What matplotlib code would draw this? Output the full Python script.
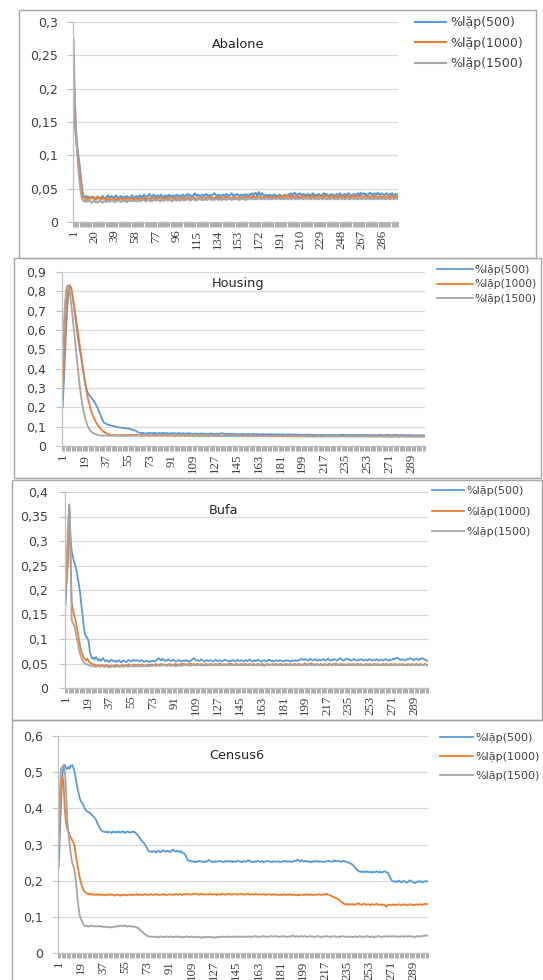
import matplotlib
matplotlib.use('Agg')
import matplotlib.pyplot as plt
import numpy as np
from matplotlib.patches import Rectangle
from matplotlib.ticker import FixedLocator, FuncFormatter

# ---------------- data (values in thousandths, 300 iterations each) ----------------
n_iter = 300
series_labels = ['%lặp(500)', '%lặp(1000)', '%lặp(1500)']
series_colors = ['#5B9BD5', '#ED7D31', '#A5A5A5']

abalone_500 = [
195,160,132,118,105,92,78,62,48,40,38,37,39,36,38,35,37,38,36,37,35,36,38,37,35,36,37,39,36,35,
37,38,40,36,37,39,38,36,37,40,38,37,36,38,39,37,36,38,37,39,38,36,37,38,40,37,36,38,39,37,
38,40,37,39,38,41,39,37,38,40,42,39,38,40,41,38,39,37,40,38,39,41,38,37,39,40,38,39,41,38,
39,38,40,37,39,41,38,40,39,38,40,41,39,38,40,42,39,41,40,38,39,41,43,40,39,41,40,38,40,41,
39,40,42,41,39,40,38,41,40,42,43,41,40,39,41,40,38,40,41,39,40,42,41,39,40,41,43,40,39,41,
40,42,41,39,40,41,39,40,42,40,41,39,40,42,41,43,40,42,44,41,40,45,42,40,43,41,40,39,41,40,
39,41,40,38,40,41,39,40,38,39,41,40,39,38,40,41,40,39,40,42,41,43,40,42,44,41,40,42,41,43,
41,40,42,39,41,40,42,41,39,40,42,43,40,41,39,40,42,41,40,39,41,43,40,42,41,40,39,41,42,40,
41,39,40,42,41,40,43,41,39,40,42,41,40,42,43,41,40,39,41,42,40,41,43,42,40,44,41,42,43,41,
42,40,41,43,44,41,42,40,43,41,42,44,41,40,43,42,41,40,42,43,41,40,42,41,43,42,40,41,42,40]
abalone_1000 = [
240,175,140,115,100,85,70,55,45,38,36,35,36,34,35,36,35,37,36,35,34,36,35,37,36,35,34,35,36,35,
34,33,35,34,33,35,34,36,35,34,33,35,34,36,35,34,35,33,34,36,35,34,35,36,34,35,33,34,36,35,
34,35,36,34,35,36,35,34,36,35,34,36,35,37,36,35,34,36,35,36,37,35,34,36,35,37,36,35,36,34,
35,36,35,37,36,35,34,36,35,36,37,35,36,35,34,36,37,36,35,36,35,37,36,35,34,36,35,36,37,36,
35,36,37,35,36,37,36,35,37,36,35,37,36,38,36,35,37,36,35,36,37,38,36,35,37,36,35,37,36,37,
36,35,37,38,36,37,36,35,37,38,36,37,38,36,37,38,39,37,36,38,37,36,38,37,36,37,38,37,36,38,
37,38,36,37,38,37,36,38,37,36,37,38,39,37,38,40,39,38,40,39,38,37,39,38,37,38,39,37,38,37,
38,37,39,38,37,38,39,37,38,37,38,39,37,38,37,38,39,38,37,39,38,37,38,39,40,38,37,38,39,38,
37,38,39,38,37,38,39,38,37,39,38,37,38,39,38,37,38,39,40,38,37,38,39,38,37,39,38,37,38,39,
38,37,39,38,37,38,39,37,38,39,38,37,38,39,38,37,38,39,38,37,38,39,37,38,39,38,37,38,37,38]
abalone_1500 = [
275,190,150,115,90,70,55,42,35,32,31,32,30,33,31,32,30,29,31,32,30,31,29,30,32,31,30,29,31,32,
30,31,32,30,31,33,32,31,30,32,31,33,32,31,30,32,33,31,32,30,31,33,32,31,33,32,31,32,33,31,
32,33,31,32,34,33,32,31,33,34,32,33,31,32,34,33,32,33,34,32,31,33,34,32,33,34,33,32,34,33,
32,31,33,34,33,32,34,33,32,33,34,33,32,34,33,35,34,33,32,34,35,33,34,33,32,34,35,34,33,34,
33,34,35,33,34,35,34,33,35,34,33,34,35,34,33,35,34,33,34,35,34,33,35,34,36,34,33,35,34,35,
34,35,34,33,35,36,34,35,34,33,35,34,36,35,34,35,36,34,35,34,35,36,35,34,35,36,34,35,36,35,
34,35,36,34,35,36,35,34,35,36,35,34,36,35,34,35,36,35,34,36,35,34,35,36,35,34,36,35,34,35,
36,35,34,35,36,35,34,36,35,34,35,36,35,34,36,35,34,35,36,35,34,35,36,35,34,36,35,34,35,36,
35,34,36,35,34,35,36,35,34,36,35,34,35,36,35,34,35,36,35,34,36,35,34,35,36,35,34,35,36,35,
34,35,36,35,34,36,35,34,35,36,35,34,35,36,35,34,36,35,34,35,36,35,34,35,36,35,34,35,36,35]

housing_500 = [
200,330,480,620,730,800,825,820,790,740,690,640,590,545,505,470,430,390,350,315,
290,275,265,255,248,240,230,220,208,195,180,165,150,135,122,118,115,112,110,108,
106,105,103,101,100,99,97,96,95,94,93,92,92,91,90,89,88,86,84,82,80,76,72,70,68,66,
68,67,65,66,64,67,69,66,65,67,68,66,64,66,67,65,66,68,66,65,67,66,64,65,
66,67,65,66,64,65,67,66,64,65,66,64,63,65,66,64,65,63,62,64,65,63,62,64,63,65,64,62,63,64,
62,63,65,64,62,63,61,63,64,62,63,65,66,64,63,62,64,63,62,63,64,62,61,63,62,61,60,62,63,61,
62,60,61,63,62,60,61,62,63,61,60,62,61,60,59,61,62,60,61,59,60,62,61,60,59,61,60,58,60,61,
59,60,61,59,58,60,59,61,60,58,59,60,58,57,59,60,58,59,57,58,59,57,58,59,57,58,57,56,58,57,
58,57,56,57,58,56,57,58,57,56,57,58,56,57,56,58,57,56,57,58,59,57,58,56,57,58,56,57,58,57,
56,57,58,56,57,58,57,56,58,57,56,57,58,57,56,55,57,56,57,55,56,57,58,56,57,55,56,57,58,56,
57,56,55,57,56,58,57,56,55,56,57,56,55,57,56,55,56,57,55,56,55,56,54,55,56,54,55,56,55,54]
housing_1000 = [
300,430,580,700,790,830,832,815,785,745,705,665,620,575,530,485,440,395,350,310,
275,245,220,195,175,158,143,130,118,108,100,92,85,79,74,70,66,63,61,59,
57,56,55,57,56,55,56,55,57,56,55,56,57,55,56,57,58,56,55,57,
56,58,57,55,56,58,57,56,55,57,58,56,57,55,56,57,58,56,55,57,56,55,57,56,58,57,55,56,57,56,
55,57,56,55,57,58,56,55,57,56,55,54,56,55,57,56,55,54,56,55,54,56,55,53,55,56,54,55,53,54,
55,54,56,55,53,54,55,56,54,53,55,54,53,55,54,56,55,53,54,55,53,54,55,54,53,52,54,53,55,54,
53,54,52,53,54,53,52,54,53,52,54,53,52,53,54,52,53,52,54,53,52,51,53,52,53,52,51,53,52,51,
52,53,51,52,53,52,51,52,53,51,52,51,50,52,51,52,50,51,52,51,50,52,51,50,51,52,50,51,50,52,
51,50,52,51,50,51,52,50,51,50,52,51,50,51,50,52,51,50,51,52,50,51,50,51,52,50,51,50,52,51,
50,51,52,50,51,50,52,51,50,51,50,52,51,50,49,51,50,52,51,50,49,51,50,51,49,50,51,50,49,51,
50,49,51,50,49,50,51,49,50,51,50,49,50,51,49,50,49,51,50,49,50,51,49,50,49,50,51,49,50,49]
housing_1500 = [
450,620,740,810,830,822,790,740,680,620,560,500,440,380,320,270,225,190,160,135,
115,100,88,80,73,68,64,61,59,57,
55,54,55,54,53,54,55,54,53,54,53,54,55,53,54,53,54,53,52,54,53,54,53,52,54,53,52,53,54,53,
52,53,54,52,53,52,54,53,52,53,54,52,53,52,53,54,52,53,52,54,53,52,53,52,54,53,52,53,52,53,
52,53,52,51,53,52,53,51,52,53,52,51,52,53,51,52,53,52,51,52,51,53,52,51,52,51,52,53,51,52,
51,52,51,53,52,51,52,51,52,51,53,52,51,52,51,52,51,50,52,51,52,51,50,51,52,51,50,52,51,50,
51,52,50,51,50,52,51,50,51,50,51,52,50,51,50,51,50,52,51,50,51,50,49,51,50,51,50,49,51,50,
50,51,49,50,51,50,49,50,51,49,50,51,50,49,50,49,51,50,49,50,51,49,50,49,50,51,49,50,49,50,
49,50,51,49,50,49,50,49,51,50,49,50,49,50,51,49,50,49,50,49,50,51,49,50,49,50,49,50,51,49,
50,49,50,49,51,50,49,50,49,50,49,50,51,49,50,49,48,50,49,50,49,48,50,49,50,49,48,50,49,50,
49,48,50,49,48,49,50,49,48,49,50,48,49,48,50,49,48,49,50,48,49,48,49,50,48,49,48,49,48,49]

bufa_500 = [
170,230,300,372,310,280,268,258,250,240,225,210,195,170,150,125,110,105,102,95,75,65,60,62,58,63,60,56,59,55,
58,61,56,54,57,55,53,56,58,55,54,56,53,55,57,54,52,55,56,54,53,55,57,56,54,55,58,56,55,57,
56,54,55,57,55,53,54,56,55,53,55,54,56,55,54,57,59,61,58,56,60,58,55,57,56,59,57,55,56,58,
56,54,55,57,56,55,54,56,55,57,55,56,54,55,57,59,61,58,56,57,55,56,58,57,55,54,56,57,55,56,
57,55,54,56,58,56,55,57,56,54,55,57,58,56,55,54,56,55,57,56,54,55,58,56,55,57,56,54,56,57,
55,56,58,56,54,55,57,55,56,58,56,55,54,56,57,55,54,56,58,57,55,56,54,55,57,56,55,57,56,55,
54,56,55,57,56,55,54,56,55,57,56,55,57,56,58,60,58,57,59,58,56,57,60,58,56,57,59,57,56,58,
57,56,58,59,57,56,58,60,57,56,58,57,59,58,56,57,59,61,58,57,56,58,60,59,57,58,56,57,59,58,
57,56,58,57,59,58,56,57,58,56,57,59,58,57,56,58,57,59,58,56,57,58,56,57,59,58,57,56,58,57,
58,60,59,61,62,60,58,57,59,58,56,57,59,58,60,61,59,58,57,59,60,58,57,59,61,60,59,58,57,55]
bufa_1000 = [
205,225,260,368,280,175,160,150,140,128,115,100,85,75,68,62,58,56,60,55,52,50,49,48,48,47,46,47,45,46,
47,46,45,46,47,45,44,46,45,44,46,45,47,46,45,44,46,47,46,45,47,46,48,47,46,45,47,48,46,47,
48,47,46,48,47,46,45,47,48,47,46,48,47,46,48,49,47,48,47,49,48,47,48,46,47,48,49,47,48,47,
48,49,47,48,47,49,48,50,49,48,47,49,48,50,49,48,49,47,48,49,48,47,49,48,47,48,49,48,47,48,
49,48,47,48,49,47,48,50,49,48,47,49,48,47,49,48,50,49,48,47,48,49,48,47,48,49,47,48,49,48,
47,48,49,48,47,49,48,47,48,49,48,47,49,48,45,47,48,49,48,47,48,49,47,48,49,48,47,48,49,48,
47,48,49,48,47,48,49,47,48,49,48,47,48,49,48,47,48,49,50,48,47,49,48,50,49,48,47,49,48,47,
48,49,47,48,49,48,46,48,49,48,47,49,48,50,49,48,47,49,48,47,49,48,47,48,49,48,47,49,48,47,
48,49,48,47,49,48,47,48,49,48,47,49,48,47,48,49,48,47,49,48,47,48,49,48,47,49,48,47,48,49,
48,47,49,48,47,48,49,48,47,49,48,47,48,49,48,47,49,48,47,48,49,48,47,49,48,47,48,49,48,46]
bufa_1500 = [
220,270,330,375,300,140,132,128,118,105,92,80,70,62,56,52,50,49,48,47,46,45,44,45,44,43,44,45,43,44,
45,44,43,44,45,43,42,44,43,45,44,43,44,45,44,43,45,44,43,44,45,44,43,45,46,44,45,44,46,45,
44,45,46,44,45,46,45,44,46,45,44,46,45,47,46,45,47,46,45,47,46,48,47,46,45,47,46,45,47,46,
45,44,46,45,47,46,45,47,46,48,47,46,47,45,46,47,48,46,47,46,48,47,46,47,48,46,47,46,48,47,
46,47,48,46,47,46,48,47,46,47,48,46,47,48,47,46,48,47,46,47,48,46,47,48,47,46,48,47,46,47,
48,46,47,48,47,46,48,47,46,47,48,47,46,48,47,46,47,48,46,47,48,47,46,48,47,46,47,48,47,46,
47,48,46,47,48,47,46,48,47,46,47,48,47,46,48,47,46,47,48,46,47,48,47,46,48,47,46,47,48,47,
46,48,47,46,47,48,47,46,48,47,46,47,48,46,47,48,47,46,48,47,46,47,48,47,46,48,47,46,47,48,
47,46,48,47,46,47,48,47,46,48,47,46,47,48,46,47,48,47,46,48,47,46,47,48,47,46,48,47,46,47,
48,47,46,48,47,46,47,48,47,46,48,47,46,47,48,46,47,48,47,46,48,47,46,47,48,47,46,48,47,47]

census6_500 = [
235,330,420,490,515,520,512,508,515,510,518,520,512,500,480,460,445,430,420,415,410,400,395,392,390,388,385,382,378,375,
370,362,355,348,342,338,336,335,334,336,333,335,334,332,336,334,335,333,336,334,335,333,337,334,332,335,336,334,333,335,
334,336,333,330,326,322,318,312,308,305,300,295,288,282,280,281,279,282,280,278,281,283,280,279,282,284,281,280,283,282,
279,281,284,286,282,280,283,281,279,282,278,276,275,270,262,256,254,255,253,252,254,251,253,252,255,253,252,254,251,253,
252,255,257,254,252,253,251,254,252,253,255,254,252,253,251,254,253,255,252,254,253,251,254,252,253,255,254,252,253,251,
254,253,252,255,257,254,252,253,251,254,252,253,255,253,252,254,251,253,252,255,254,252,253,251,254,253,252,254,253,252,
251,253,254,252,255,253,252,254,253,251,253,255,254,256,258,255,253,257,254,252,255,253,254,252,253,251,254,252,253,255,
253,252,254,253,251,253,252,254,253,255,253,252,254,253,256,254,253,255,253,252,254,255,253,252,251,250,249,247,245,242,
238,234,230,227,225,224,226,223,225,224,226,223,225,224,222,225,223,224,226,224,223,225,222,224,226,225,223,221,215,208,
201,198,197,199,196,198,200,197,195,198,199,197,194,196,199,201,198,197,195,193,196,198,197,199,196,195,197,198,199,198]
census6_1000 = [
300,380,450,490,470,400,360,345,335,325,318,312,305,295,270,250,230,210,195,185,176,170,167,165,163,162,164,161,163,162,
160,162,161,163,160,162,161,159,162,160,161,163,160,162,161,160,159,161,162,160,158,161,160,162,161,159,160,162,161,160,
162,160,161,163,161,160,162,161,160,162,163,161,160,162,161,163,162,160,161,163,162,161,160,162,161,163,162,160,161,162,
163,161,162,160,162,164,162,161,163,162,160,162,163,161,164,162,163,161,162,164,163,165,162,163,161,164,162,163,161,162,
163,161,162,164,162,161,163,162,160,162,163,161,162,164,162,161,163,162,164,163,161,162,164,163,162,161,163,162,164,162,
163,161,162,164,163,161,162,163,161,162,164,162,161,163,162,161,163,162,160,162,163,161,162,160,162,163,161,162,160,161,
162,160,161,163,161,160,162,161,163,160,161,162,160,161,159,161,160,162,161,160,162,161,163,160,161,162,160,161,162,160,
161,163,162,160,161,163,162,164,162,161,160,158,156,155,153,152,150,148,145,142,140,137,135,134,136,133,135,134,136,133,
135,134,136,138,135,134,133,135,136,134,133,135,134,132,135,134,133,135,136,134,133,135,132,134,133,131,128,133,134,132,
134,133,135,132,134,133,135,134,132,133,135,134,133,132,134,135,133,134,132,133,135,134,133,135,134,133,135,136,134,136]
census6_1500 = [
300,450,510,515,520,505,450,370,330,300,270,250,240,225,200,160,130,105,95,88,80,76,74,75,73,74,75,76,74,73,
75,74,73,74,75,72,73,71,72,73,71,72,70,72,71,73,72,74,75,73,76,75,74,76,75,74,73,75,74,73,
74,72,73,71,70,67,64,61,58,55,52,49,47,46,45,46,44,45,46,44,45,43,45,46,44,45,44,46,45,44,
45,46,44,45,44,46,45,44,46,45,44,43,45,44,46,45,44,45,46,44,45,44,43,45,44,43,42,44,43,45,
44,43,44,45,43,44,42,43,44,45,43,44,45,46,44,45,44,46,45,44,45,46,44,45,46,45,44,46,45,44,
45,46,44,45,46,45,44,46,45,47,45,46,44,45,46,45,47,46,45,44,46,45,47,46,45,46,47,45,46,44,
45,46,47,45,46,44,45,46,45,47,48,46,45,47,46,45,46,47,45,46,47,45,44,46,47,45,46,44,45,46,
47,45,46,44,45,46,45,47,46,45,44,46,45,47,46,44,45,46,44,45,47,46,45,44,46,45,44,46,45,44,
45,46,44,45,47,45,46,44,46,45,47,46,45,44,46,45,43,46,45,47,46,45,44,46,45,47,46,45,47,46,
45,46,47,45,46,44,46,45,47,46,45,46,47,45,46,47,45,46,44,45,46,47,45,46,47,46,48,47,49,48]

abalone_ticks = list(range(1, 300, 19))   # 1, 20, ..., 286
other_ticks = list(range(1, 300, 18))     # 1, 19, ..., 289

# ---------------- layout helpers (pixel coords of the 543x980 image) ----------------
W, H = 543, 980
fig = plt.figure(figsize=(W / 100, H / 100), dpi=100)


def fx(x):
    return x / W


def fy(y):
    return 1 - y / H


panels = [
    dict(title='Abalone', data=[abalone_500, abalone_1000, abalone_1500], ymax=0.3, ystep=0.05,
         ticks=abalone_ticks, rect=(73, 398, 22, 222), title_xy=(238, 44), border=(19, 10, 536, 258),
         leg=dict(x=415, top=16, fs=9, hl=2.5, tp=0.3, ls=0.6), ypad=7.0, lw=1.5),
    dict(title='Housing', data=[housing_500, housing_1000, housing_1500], ymax=0.9, ystep=0.1,
         ticks=other_ticks, rect=(62, 425, 272, 446), title_xy=(238, 284), border=(14, 258, 541, 478),
         leg=dict(x=437, top=265, fs=7.7, hl=3.4, tp=0.1, ls=0.42), ypad=7.5, lw=1.3),
    dict(title='Bufa', data=[bufa_500, bufa_1000, bufa_1500], ymax=0.4, ystep=0.05,
         ticks=other_ticks, rect=(65, 428, 492, 688), title_xy=(224, 510), border=(12, 480, 542, 720),
         leg=dict(x=432, top=486, fs=8, hl=2.9, tp=0.15, ls=0.95), ypad=8.0, lw=1.3),
    dict(title='Census6', data=[census6_500, census6_1000, census6_1500], ymax=0.6, ystep=0.1,
         ticks=other_ticks, rect=(58, 428, 736, 953), title_xy=(237, 755), border=(12, 720, 546, 990),
         leg=dict(x=440, top=733, fs=8, hl=3.0, tp=0.15, ls=0.8), ypad=7.0, lw=1.3),
]

txt_color = '#404040'
axis_color = '#BFBFBF'
grid_color = '#D9D9D9'

for p in panels:
    bx0, by0, bx1, by1 = p['border']
    fig.patches.append(Rectangle((fx(bx0), fy(by1)), fx(bx1) - fx(bx0), fy(by0) - fy(by1),
                                 transform=fig.transFigure, fill=False,
                                 edgecolor='#A6A6A6', lw=1.0, zorder=0))

    x0, x1, yt, yb = p['rect']
    ax = fig.add_axes([fx(x0), fy(yb), fx(x1) - fx(x0), fy(yt) - fy(yb)])
    ax.set_facecolor('none')

    lines = []
    for vals, lab, col in zip(p['data'], series_labels, series_colors):
        xs = np.arange(1, len(vals) + 1)
        ln, = ax.plot(xs, np.array(vals) / 1000.0, color=col, lw=p['lw'], label=lab,
                      solid_joinstyle='round')
        lines.append(ln)

    ax.set_xlim(0.5, n_iter + 0.5)
    ax.set_ylim(0, p['ymax'])

    yt_vals = np.round(np.arange(0, p['ymax'] + 1e-9, p['ystep']), 4)
    ax.yaxis.set_major_locator(FixedLocator(yt_vals))
    ax.yaxis.set_major_formatter(FuncFormatter(lambda v, pos: f"{v:g}".replace('.', ',')))
    ax.grid(axis='y', color=grid_color, lw=0.9)
    ax.set_axisbelow(True)

    ax.xaxis.set_major_locator(FixedLocator(p['ticks']))
    ax.set_xticklabels([str(t) for t in p['ticks']], rotation=90,
                       fontfamily='Liberation Serif', fontsize=9.3, color=txt_color)
    ax.xaxis.set_minor_locator(FixedLocator(np.arange(0.5, n_iter + 1, 1.0)))
    ax.tick_params(axis='x', which='major', length=0, pad=5.5)
    ax.tick_params(axis='x', which='minor', length=3.4, width=0.6, color='#A0A0A0', direction='out')
    ax.tick_params(axis='y', which='major', length=4, width=0.8, color=axis_color,
                   labelsize=9, labelcolor=txt_color, pad=p['ypad'])

    for s in ('top', 'right'):
        ax.spines[s].set_visible(False)
    ax.spines['left'].set_color(axis_color)
    ax.spines['bottom'].set_color(axis_color)
    ax.spines['left'].set_linewidth(0.9)
    ax.spines['bottom'].set_linewidth(0.9)

    fig.text(fx(p['title_xy'][0]), fy(p['title_xy'][1]), p['title'], ha='center', va='center',
             fontsize=9.3, color='#262626')

    lg = p['leg']
    ax.legend(handles=lines, loc='upper left', bbox_to_anchor=(fx(lg['x']), fy(lg['top'])),
              bbox_transform=fig.transFigure, frameon=False, fontsize=lg['fs'],
              handlelength=lg['hl'], handletextpad=lg['tp'], labelspacing=lg['ls'],
              borderpad=0, borderaxespad=0, labelcolor=txt_color)

fig.savefig('out.png', dpi=100)
